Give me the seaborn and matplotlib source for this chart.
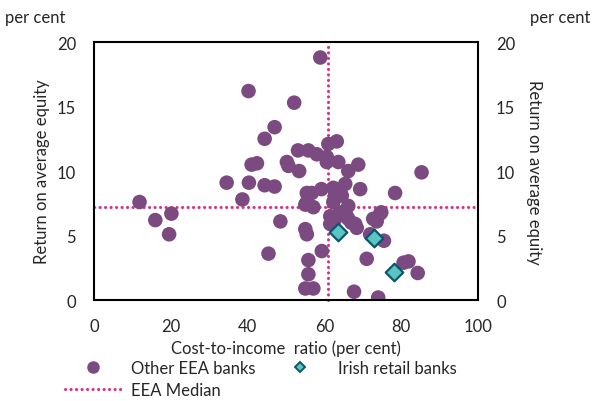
import matplotlib
matplotlib.use('Agg')
import matplotlib.pyplot as plt
import seaborn as sns
import pandas as pd
from matplotlib.lines import Line2D

# cost-to-income ratio (x) and return on average equity (y), per cent
other_x = [58.9, 40.2, 52.1, 47.0, 44.4, 63.2, 61.0, 53.1, 55.8, 58.0,
           60.6, 63.6, 68.8, 66.2, 50.2, 50.6, 53.4, 41.0, 42.4, 85.3,
           34.5, 40.3, 44.4, 47.0, 56.7, 59.2, 62.3, 65.4, 69.3, 78.4,
           62.8, 64.5, 55.0, 57.1, 62.3, 66.2, 74.8, 11.8, 15.9, 20.1,
           19.5, 38.6, 48.5, 45.4, 55.0, 55.4, 61.5, 62.8, 65.8, 68.0,
           71.9, 73.6, 74.5, 75.5, 59.3, 71.0, 55.8, 55.8, 80.6, 81.9,
           84.3, 55.0, 57.1, 67.7, 74.0, 67.0, 64.0, 55.4, 55.4, 72.7,
           68.4, 66.2, 61.5, 60.6]
other_y = [18.8, 16.2, 15.3, 13.4, 12.5, 12.3, 12.1, 11.6, 11.6, 11.3,
           11.1, 10.7, 10.5, 10.0, 10.7, 10.4, 10.0, 10.5, 10.6, 9.9,
           9.1, 9.1, 8.9, 8.8, 8.3, 8.6, 8.7, 9.0, 8.6, 8.3,
           8.2, 8.1, 7.4, 7.2, 7.6, 7.3, 6.8, 7.6, 6.2, 6.7,
           5.1, 7.8, 6.1, 3.6, 5.5, 5.1, 5.9, 6.3, 6.5, 5.9,
           5.1, 6.1, 6.7, 4.6, 3.8, 3.2, 3.1, 2.0, 2.9, 3.0,
           2.1, 0.9, 0.9, 0.65, 0.2, 6.0, 6.8, 8.3, 7.6, 6.3,
           5.6, 6.3, 6.5, 10.7]

irish_x = [63.6, 72.9, 78.1]
irish_y = [5.3, 4.8, 2.2]

median_x = 60.8
median_y = 7.2

purple = '#7B4A80'
teal_face = '#5BC6C0'
teal_edge = '#0B5570'
pink = '#DB2E7E'

sns.set_style('white')
plt.rcParams['font.family'] = ['Lato', 'DejaVu Sans']

df_other = pd.DataFrame({'x': other_x, 'y': other_y})
df_irish = pd.DataFrame({'x': irish_x, 'y': irish_y})

fig = plt.figure(figsize=(5.93, 4.02), dpi=100)
ax = fig.add_axes([0.159, 0.251, 0.647, 0.642])

dots = (0, (0.05, 1.75))
ax.axvline(median_x, color=pink, lw=2.2, ls=dots,
           dash_capstyle='round', zorder=1, clip_on=False)
ax.axhline(median_y, color=pink, lw=2.2, ls=dots,
           dash_capstyle='round', zorder=1)

sns.scatterplot(data=df_other, x='x', y='y', ax=ax, color=purple,
                s=110, edgecolor='none', zorder=2)
sns.scatterplot(data=df_irish, x='x', y='y', ax=ax, marker='D',
                color=teal_face, edgecolor=teal_edge, linewidth=1.6,
                s=80, zorder=3)

ax.set_xlim(0, 100)
ax.set_ylim(0, 20)
ax.set_xticks([0, 20, 40, 60, 80, 100])
ax.set_yticks([0, 5, 10, 15, 20])
ax.tick_params(labelsize=12, length=0, pad=13)
for sp in ax.spines.values():
    sp.set_color('black')
    sp.set_linewidth(1.5)
ax.set_xlabel('Cost-to-income  ratio (per cent)', fontsize=12, labelpad=4)
ax.set_ylabel('Return on average equity', fontsize=12, labelpad=5)

ax2 = ax.twinx()
ax2.set_ylim(0, 20)
ax2.set_yticks([0, 5, 10, 15, 20])
ax2.tick_params(labelsize=12, length=0, pad=13)
ax2.spines[:].set_visible(False)
ax2.set_ylabel('Return on average equity', fontsize=12, rotation=-90,
               labelpad=19)

fig.text(0.008, 0.955, 'per cent', fontsize=12, ha='left', va='center')
fig.text(0.995, 0.955, 'per cent', fontsize=12, ha='right', va='center')

h1 = Line2D([], [], ls='none', marker='o', color=purple, markersize=8)
h2 = Line2D([], [], ls='none', marker='D', markerfacecolor=teal_face,
            markeredgecolor=teal_edge, markeredgewidth=1.4, markersize=5)
h3 = Line2D([], [], color=pink, lw=2.2, ls=dots, dash_capstyle='round')
fig.legend([h1, h3, h2], ['Other EEA banks', 'EEA Median', 'Irish retail banks'],
           ncol=2, loc='upper left', bbox_to_anchor=(0.095, 0.123),
           frameon=False, fontsize=12, handlelength=3.4, columnspacing=0.95,
           labelspacing=0.35, borderpad=0, handletextpad=0.6)

fig.savefig('out.png', dpi=100)
